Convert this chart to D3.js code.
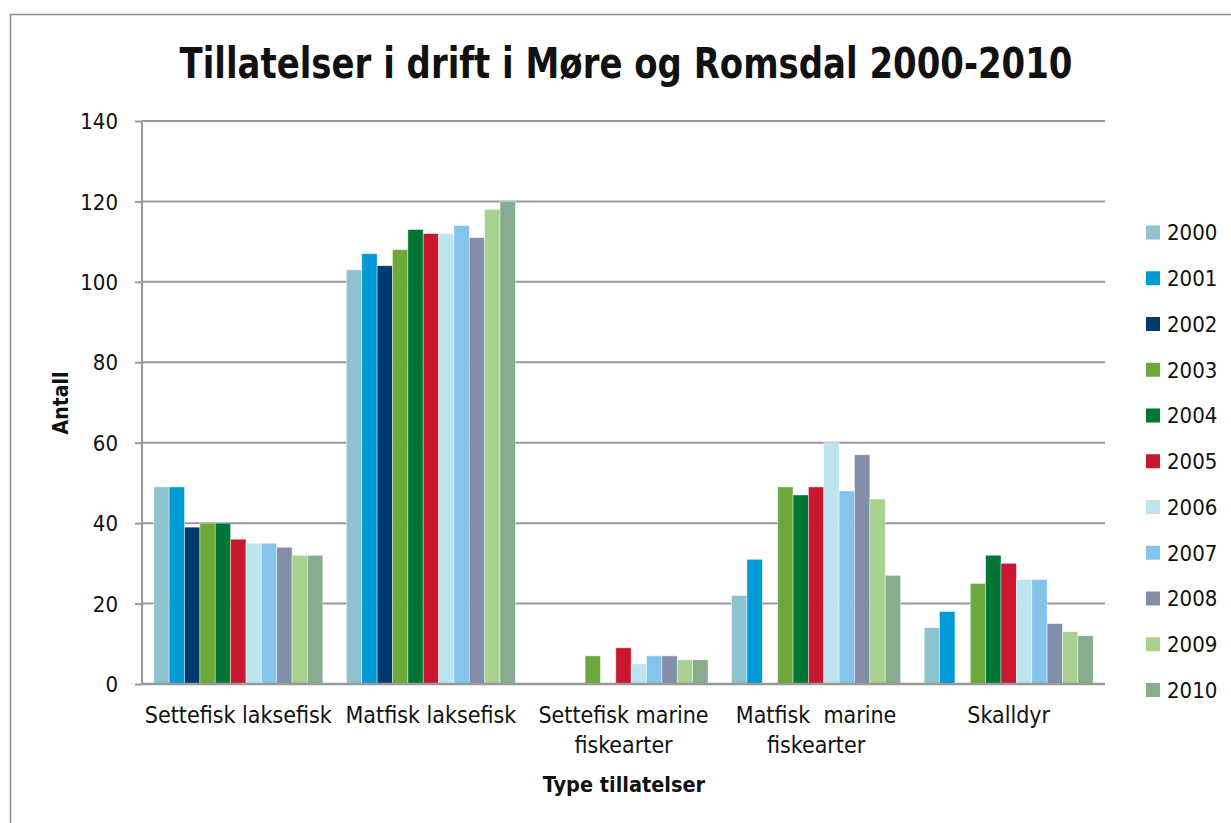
<!DOCTYPE html>
<html><head><meta charset="utf-8">
<script src="https://cdn.jsdelivr.net/npm/d3@7"></script>
<style>
body{margin:0;background:#fff;}
text{font-family:"DejaVu Sans Condensed","DejaVu Sans",sans-serif;fill:#111;}
</style></head>
<body>
<svg id="chart" width="1231" height="823"></svg>
<script>
const categories = [["Settefisk laksefisk"],["Matfisk laksefisk"],["Settefisk marine","fiskearter"],["Matfisk  marine","fiskearter"],["Skalldyr"]];
const years = ["2000","2001","2002","2003","2004","2005","2006","2007","2008","2009","2010"];
const colors = ["#8DC3CF","#009AD6","#003A6E","#6BAA3A","#007536","#C8172F","#BDE5EE","#85C3EF","#838EA9","#A8D18F","#85AC8C"];
const v2000 = [49,103,0,22,14];
const v2001 = [49,107,0,31,18];
const v2002 = [39,104,0,0,0];
const v2003 = [40,108,7,49,25];
const v2004 = [40,113,0,47,32];
const v2005 = [36,112,9,49,30];
const v2006 = [35,112,5,60,26];
const v2007 = [35,114,7,48,26];
const v2008 = [34,111,7,57,15];
const v2009 = [32,118,6,46,13];
const v2010 = [32,120,6,27,12];
const series = [v2000,v2001,v2002,v2003,v2004,v2005,v2006,v2007,v2008,v2009,v2010];
const yTicks = [0,20,40,60,80,100,120,140];
const title = "Tillatelser i drift i Møre og Romsdal 2000-2010";
const xTitle = "Type tillatelser";
const yTitle = "Antall";

const svg = d3.select("#chart");
const L=142, R=1105, T=121, B=684;
const catKeys = categories.map((c,i)=>i);
const x0 = d3.scaleBand().domain(catKeys).range([L,R]).paddingInner(0).paddingOuter(0);
const x1 = d3.scaleBand().domain(years).range([0,x0.bandwidth()]).paddingInner(0).paddingOuter(0.768);
const y = d3.scaleLinear().domain([0,140]).range([B,T]);

// outer border
svg.append("rect").attr("x",10.5).attr("y",14.5).attr("width",1240).attr("height",830)
  .attr("fill","none").attr("stroke","#8c8c8c").attr("stroke-width",1.5);

// gridlines
svg.append("g").selectAll("line").data(yTicks.filter(d=>d>0)).join("line")
  .attr("x1",L).attr("x2",R).attr("y1",d=>y(d)).attr("y2",d=>y(d))
  .attr("stroke","#999").attr("stroke-width",2);

// bars
const gCat = svg.append("g").selectAll("g").data(catKeys).join("g")
  .attr("transform",d=>`translate(${x0(d)},0)`);
gCat.selectAll("rect").data(ci=>years.map((yr,si)=>({yr,si,v:series[si][ci]})).filter(d=>d.v>0)).join("rect")
  .attr("x",d=>x1(d.yr)).attr("width",x1.bandwidth())
  .attr("y",d=>y(d.v)).attr("height",d=>y(0)-y(d.v))
  .attr("fill",d=>colors[d.si]).attr("stroke","rgba(255,255,255,0.5)").attr("stroke-width",0.8);

// y axis
const yAxis = d3.axisLeft(y).tickValues(yTicks).tickSize(7).tickPadding(17).tickFormat(d3.format("d"));
const ga = svg.append("g").attr("transform",`translate(${L},0)`).call(yAxis);
ga.select(".domain").attr("stroke","#999").attr("stroke-width",2).attr("d",`M0,${T}V${B}`);
ga.selectAll(".tick line").attr("stroke","#999").attr("stroke-width",2);
ga.selectAll(".tick text").attr("font-size",22).attr("font-family","DejaVu Sans Condensed").attr("fill","#111").attr("dy","0.35em");

// x baseline
svg.append("line").attr("x1",L).attr("x2",R).attr("y1",B).attr("y2",B).attr("stroke","#999").attr("stroke-width",2.5);

// category labels
const lab = svg.append("g").selectAll("text").data(catKeys).join("text")
  .attr("x",d=>x0(d)+x0.bandwidth()/2).attr("y",723).attr("text-anchor","middle").attr("font-size",23);
lab.selectAll("tspan").data(d=>categories[d]).join("tspan")
  .attr("x",function(){return d3.select(this.parentNode).attr("x");})
  .attr("dy",(d,i)=>i===0?0:30).style("white-space","pre").text(d=>d);

// title
svg.append("text").attr("x",626).attr("y",78).attr("text-anchor","middle")
  .attr("font-size",42).attr("font-weight","bold")
  .attr("textLength",893).attr("lengthAdjust","spacingAndGlyphs").text(title);
// axis titles
svg.append("text").attr("x",624).attr("y",792).attr("text-anchor","middle")
  .attr("font-size",21.5).attr("font-weight","bold").text(xTitle);
svg.append("text").attr("transform","translate(68,403) rotate(-90)").attr("text-anchor","middle")
  .attr("font-size",21).attr("font-weight","bold").text(yTitle);

// legend
const lg = svg.append("g").selectAll("g").data(years).join("g")
  .attr("transform",(d,i)=>`translate(1146,${232.5+i*45.75})`);
lg.append("rect").attr("x",0).attr("y",-7).attr("width",14).attr("height",14).attr("fill",(d,i)=>colors[i]);
lg.append("text").attr("x",21).attr("dy","0.36em").attr("font-size",22).text(d=>d);
</script>
</body></html>
